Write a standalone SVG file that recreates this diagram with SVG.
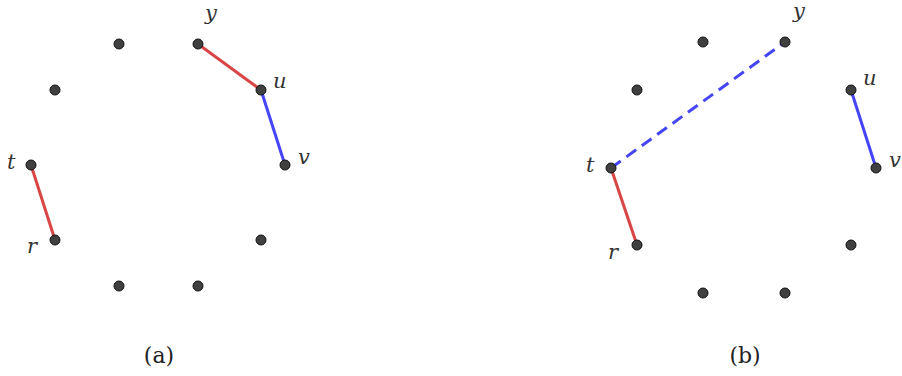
<svg xmlns="http://www.w3.org/2000/svg" width="902" height="376" viewBox="0 0 902 376">
<style>
.d{fill:#404040;stroke:#111;stroke-width:1}
.lbl{font-family:'DejaVu Serif',serif;font-style:italic;font-size:21px;fill:#333}
.cap{font-family:'DejaVu Serif',serif;font-size:22px;fill:#222;text-anchor:middle}
.red{stroke:#d94545;stroke-width:3;fill:none}
.blue{stroke:#4545f5;stroke-width:3;fill:none}
.dash{stroke-dasharray:12,7}
</style>
<rect width="902" height="376" fill="#fff"/>
<g id="edges">
<line class="red" x1="198" y1="44" x2="261" y2="90"/>
<line class="blue" x1="261" y1="90" x2="285" y2="165"/>
<line class="red" x1="31" y1="165" x2="55" y2="240"/>
<line class="blue dash" x1="611" y1="168" x2="785" y2="42"/>
<line class="blue" x1="851" y1="90" x2="876" y2="168"/>
<line class="red" x1="611" y1="168" x2="637" y2="245"/>
</g>
<g id="a">
<g id="a1"><circle class="d" cx="119" cy="44" r="5"/></g>
<g id="a-y"><circle class="d" cx="198" cy="44" r="5"/><text class="lbl" x="205" y="20">y</text></g>
<g id="a3"><circle class="d" cx="55" cy="90" r="5"/></g>
<g id="a-u"><circle class="d" cx="261" cy="90" r="5"/><text class="lbl" x="273" y="88">u</text></g>
<g id="a-t"><circle class="d" cx="31" cy="165" r="5"/><text class="lbl" x="7" y="169">t</text></g>
<g id="a-v"><circle class="d" cx="285" cy="165" r="5"/><text class="lbl" x="298" y="164">v</text></g>
<g id="a-r"><circle class="d" cx="55" cy="240" r="5"/><text class="lbl" x="27" y="253">r</text></g>
<g id="a8"><circle class="d" cx="261" cy="240" r="5"/></g>
<g id="a9"><circle class="d" cx="119" cy="286" r="5"/></g>
<g id="a10"><circle class="d" cx="198" cy="286" r="5"/></g>
<text class="cap" x="159" y="363">(a)</text>
</g>
<g id="b">
<g id="b1"><circle class="d" cx="703" cy="42" r="5"/></g>
<g id="b-y"><circle class="d" cx="785" cy="42" r="5"/><text class="lbl" x="793" y="18">y</text></g>
<g id="b3"><circle class="d" cx="637" cy="90" r="5"/></g>
<g id="b-u"><circle class="d" cx="851" cy="90" r="5"/><text class="lbl" x="863" y="85">u</text></g>
<g id="b-t"><circle class="d" cx="611" cy="168" r="5"/><text class="lbl" x="586" y="172">t</text></g>
<g id="b-v"><circle class="d" cx="876" cy="168" r="5"/><text class="lbl" x="889" y="167">v</text></g>
<g id="b-r"><circle class="d" cx="637" cy="245" r="5"/><text class="lbl" x="608" y="259">r</text></g>
<g id="b8"><circle class="d" cx="851" cy="245" r="5"/></g>
<g id="b9"><circle class="d" cx="703" cy="293" r="5"/></g>
<g id="b10"><circle class="d" cx="785" cy="293" r="5"/></g>
<text class="cap" x="745" y="363">(b)</text>
</g>
</svg>
